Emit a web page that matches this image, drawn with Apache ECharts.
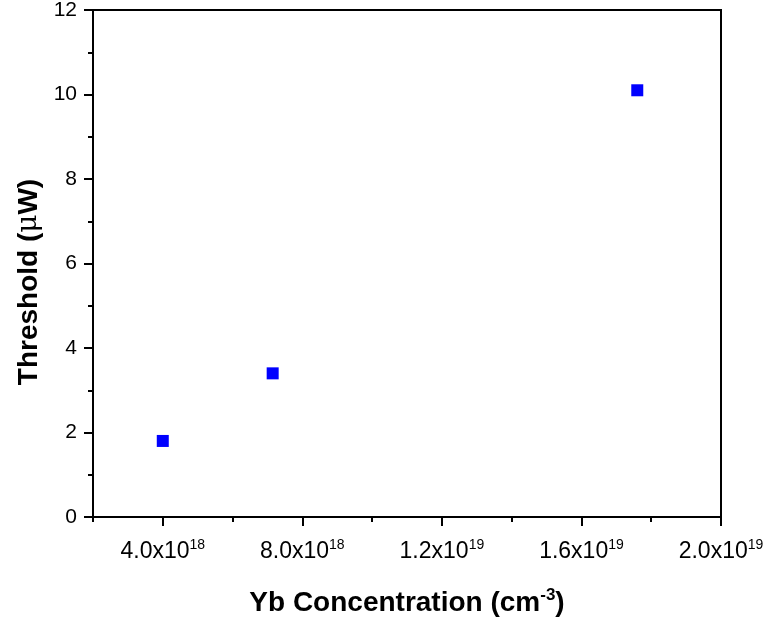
<!DOCTYPE html>
<html>
<head>
<meta charset="utf-8">
<script src="https://cdn.jsdelivr.net/npm/echarts@6/dist/echarts.min.js"></script>
<style>html,body{margin:0;padding:0;background:#fff}#c{width:770px;height:620px}</style>
</head>
<body>
<div id="c"></div>
<script>
// Data
var concentration = [4.0e18, 7.15e18, 1.76e19];
var threshold = [1.8, 3.4, 10.1];
var xMajorTicks = [4e18, 8e18, 1.2e19, 1.6e19, 2e19];
var xMinorTicks = [2e18, 6e18, 1e19, 1.4e19, 1.8e19];

function xLabel(v) {
  var exp = Math.floor(Math.log10(v) + 1e-9);
  var mant = v / Math.pow(10, exp);
  return '{b|' + mant.toFixed(1) + 'x10}{s|' + exp + '}';
}

var font = 'Liberation Sans, Arial, sans-serif';
var chart = echarts.init(document.getElementById('c'), null, {renderer: 'canvas'});
var points = concentration.map(function (x, i) { return [x, threshold[i]]; });

chart.setOption({
  animation: false,
  backgroundColor: '#fff',
  grid: {left: 93, right: 49, top: 10, bottom: 103, outerBoundsMode: 'none', containLabel: false, show: true, borderColor: '#000', borderWidth: 2, backgroundColor: 'transparent'},
  xAxis: [{
    type: 'value', min: 2e18, max: 2e19, position: 'bottom',
    axisLine: {show: true, onZero: false, lineStyle: {color: '#000', width: 2}},
    axisTick: {show: true, inside: false, length: 9, lineStyle: {color: '#000', width: 2}, customValues: xMajorTicks},
    axisLabel: {customValues: xMajorTicks, margin: 21, formatter: xLabel,
      rich: {b: {fontSize: 23, fontFamily: font, color: '#000'}, s: {fontSize: 14, fontFamily: font, color: '#000', padding: [0, 0, 14, 0]}}},
    splitLine: {show: false},
    name: '{t|Yb Concentration (cm}{s|-3}{t|)}', nameLocation: 'middle', nameGap: 70,
    nameTextStyle: {rich: {t: {fontSize: 28, fontWeight: 'bold', fontFamily: font, color: '#000'}, s: {fontSize: 17, fontWeight: 'bold', fontFamily: font, color: '#000', padding: [0, 0, 16, 0]}}}
  }, {
    type: 'value', min: 2e18, max: 2e19, position: 'bottom', gridIndex: 0,
    axisLine: {show: false, onZero: false},
    axisTick: {show: true, inside: false, length: 5, lineStyle: {color: '#000', width: 2}, customValues: xMinorTicks},
    axisLabel: {show: false},
    splitLine: {show: false}
  }],
  yAxis: {
    type: 'value', min: 0, max: 12, interval: 2,
    axisLine: {show: true, lineStyle: {color: '#000', width: 2}},
    axisTick: {show: true, inside: false, length: 9, lineStyle: {color: '#000', width: 2}},
    minorTick: {show: true, splitNumber: 2, length: 5, lineStyle: {color: '#000', width: 2}},
    axisLabel: {fontSize: 21, fontFamily: font, color: '#000', margin: 16},
    splitLine: {show: false}
  },
  graphic: [{
    type: 'text', x: 29, y: 282, rotation: Math.PI / 2,
    style: {
      text: '{t|Threshold (}{m|μ}{t|W)}', align: 'center', verticalAlign: 'middle',
      rich: {t: {fontSize: 28, fontWeight: 'bold', fontFamily: font, fill: '#000'}, m: {fontSize: 28, fontFamily: 'DejaVu Serif, serif', fill: '#000'}}
    }
  }],
  series: [{
    type: 'scatter', xAxisIndex: 0, data: points, symbol: 'rect', symbolSize: 12,
    itemStyle: {color: '#0000ff', opacity: 1}
  }]
});
</script>
</body>
</html>
